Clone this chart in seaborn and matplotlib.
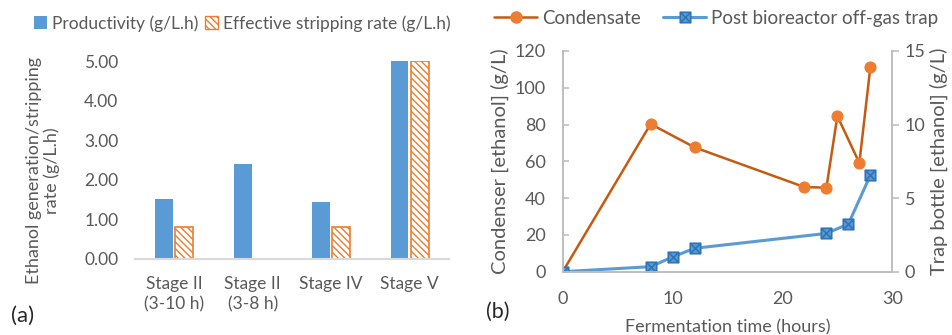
import numpy as np
import pandas as pd
import matplotlib
matplotlib.use('Agg')
import matplotlib.pyplot as plt
from matplotlib.patches import Patch
from matplotlib.lines import Line2D
from matplotlib.path import Path
import seaborn as sns

sns.set_style('white')
plt.rcParams['font.family'] = ['Lato', 'DejaVu Sans']
plt.rcParams['hatch.linewidth'] = 1.0

# (a) rates per stage
stages = ['Stage II\n(3-10 h)', 'Stage II\n(3-8 h)', 'Stage IV', 'Stage V']
productivity = [1.52, 2.40, 1.44, 5.00]
stripping = [0.81, np.nan, 0.82, 5.00]

# (b) ethanol over fermentation time
cond_time = [0, 8, 12, 22, 24, 25, 27, 28]
cond_conc = [0, 80.3, 67.6, 46.0, 45.7, 84.6, 59.1, 111.1]
trap_time = [0, 8, 10, 12, 24, 26, 28]
trap_conc = [0, 0.34, 1.0, 1.59, 2.6, 3.24, 6.55]

blue = '#5B9BD5'
dblue = '#2E75B6'
orange = '#ED7D31'
dorange = '#C55A11'
txt = '#595959'
axcol = '#BFBFBF'
fs = 12.5

fig = plt.figure(figsize=(9.52, 3.35), dpi=100)

# ---- panel (a)
ax = fig.add_axes([0.1418, 0.2269, 0.3298, 0.5910])
df = pd.DataFrame({'stage': stages * 2,
                   'rate': productivity + stripping,
                   'kind': ['Productivity (g/L.h)'] * 4 + ['Effective stripping rate (g/L.h)'] * 4})
sns.barplot(data=df, x='stage', y='rate', hue='kind', ax=ax, palette=[blue, orange],
            width=0.52, gap=0.12, legend=False, linewidth=0, saturation=1)
for p in ax.containers[1]:
    p.set_facecolor('white')
    p.set_edgecolor(orange)
    p.set_linewidth(1.2)
    p.set_hatch('\\\\\\\\\\')
ax.set_ylim(0, 5)
ax.set_yticks(np.arange(0, 5.01, 1))
ax.set_yticklabels(['%.2f' % v for v in np.arange(0, 5.01, 1)])
ax.set_xlim(-0.5, 3.5)
for s in ['top', 'right', 'left']:
    ax.spines[s].set_visible(False)
ax.spines['bottom'].set_color('#D9D9D9')
ax.spines['bottom'].set_linewidth(1.5)
ax.tick_params(axis='both', length=0, labelsize=fs, labelcolor=txt, pad=12)
for t in ax.get_xticklabels():
    t.set_linespacing(1.35)
ax.set_xlabel('')
ax.set_ylabel('')
fig.text(0.045, 0.49, 'Ethanol generation/stripping\nrate (g/L.h)', rotation=90,
         ha='center', va='center', fontsize=13, color=txt, linespacing=1.15)
ax.legend(handles=[Patch(facecolor=blue, edgecolor='none', label='Productivity (g/L.h)'),
                   Patch(facecolor='white', edgecolor=orange, hatch='\\\\\\\\\\',
                         label='Effective stripping rate (g/L.h)')],
          loc='center left', bbox_to_anchor=(0.028, 0.93), bbox_transform=fig.transFigure,
          ncol=2, frameon=False, fontsize=fs, labelcolor=txt, handlelength=0.75,
          handleheight=0.75, handletextpad=0.3, columnspacing=0.4, borderaxespad=0)
fig.text(0.012, 0.058, '(a)', fontsize=16, color='#262626', va='center')

# ---- panel (b)
bx = fig.add_axes([0.5911, 0.189, 0.3462, 0.6588])
bx2 = bx.twinx()
sqx = Path([(-1, -1), (1, -1), (1, 1), (-1, 1), (-1, -1), (-1, -1), (1, 1), (-1, 1), (1, -1)],
           [Path.MOVETO, Path.LINETO, Path.LINETO, Path.LINETO, Path.CLOSEPOLY,
            Path.MOVETO, Path.LINETO, Path.MOVETO, Path.LINETO])
sns.lineplot(x=cond_time, y=cond_conc, ax=bx, color=dorange, linewidth=1.8, marker='o',
             markersize=8, markerfacecolor=orange, markeredgecolor=orange)
sns.lineplot(x=trap_time, y=trap_conc, ax=bx2, color=blue, linewidth=2.2, marker=sqx,
             markersize=7.5, markerfacecolor=blue, markeredgecolor=dblue, markeredgewidth=1.2)
bx.set_xlim(0, 30)
bx.set_ylim(0, 120)
bx2.set_ylim(0, 15)
bx.set_xticks([0, 10, 20, 30])
bx.set_yticks(range(0, 121, 20))
bx2.set_yticks([0, 5, 10, 15])
for a in (bx, bx2):
    a.spines['top'].set_visible(False)
    for s in ['left', 'right', 'bottom']:
        a.spines[s].set_color(axcol)
        a.spines[s].set_linewidth(1.3)
bx.tick_params(axis='y', direction='in', length=4, width=1.2, color=axcol, labelsize=13,
               labelcolor=txt, pad=12)
bx.tick_params(axis='x', direction='in', length=5, width=1.2, color=axcol, labelsize=13,
               labelcolor=txt, pad=14)
bx2.tick_params(axis='y', direction='out', length=5, width=1.2, color=axcol, labelsize=13,
                labelcolor=txt, pad=4)
bx.set_xlabel('Fermentation time (hours)', fontsize=13, color=txt, labelpad=9)
bx.set_ylabel('Condenser [ethanol] (g/L)', fontsize=14.5, color=txt, labelpad=4)
bx2.set_ylabel('Trap bottle [ethanol] (g/L)', fontsize=14.5, color=txt, labelpad=3)
bx.legend(handles=[Line2D([], [], color=dorange, linewidth=1.8, marker='o', markersize=8,
                          markerfacecolor=orange, markeredgecolor=orange, label='Condensate'),
                   Line2D([], [], color=blue, linewidth=2.2, marker=sqx, markersize=7.5,
                          markerfacecolor=blue, markeredgecolor=dblue, markeredgewidth=1.2,
                          label='Post bioreactor off-gas trap')],
          loc='center left', bbox_to_anchor=(0.511, 0.945), bbox_transform=fig.transFigure,
          ncol=2, frameon=False, fontsize=13.5, labelcolor=txt, handlelength=2.3,
          handletextpad=0.25, columnspacing=1.2, borderaxespad=0)
fig.text(0.511, 0.07, '(b)', fontsize=15.5, color='#262626', va='center')

fig.savefig('out.png', dpi=100)
